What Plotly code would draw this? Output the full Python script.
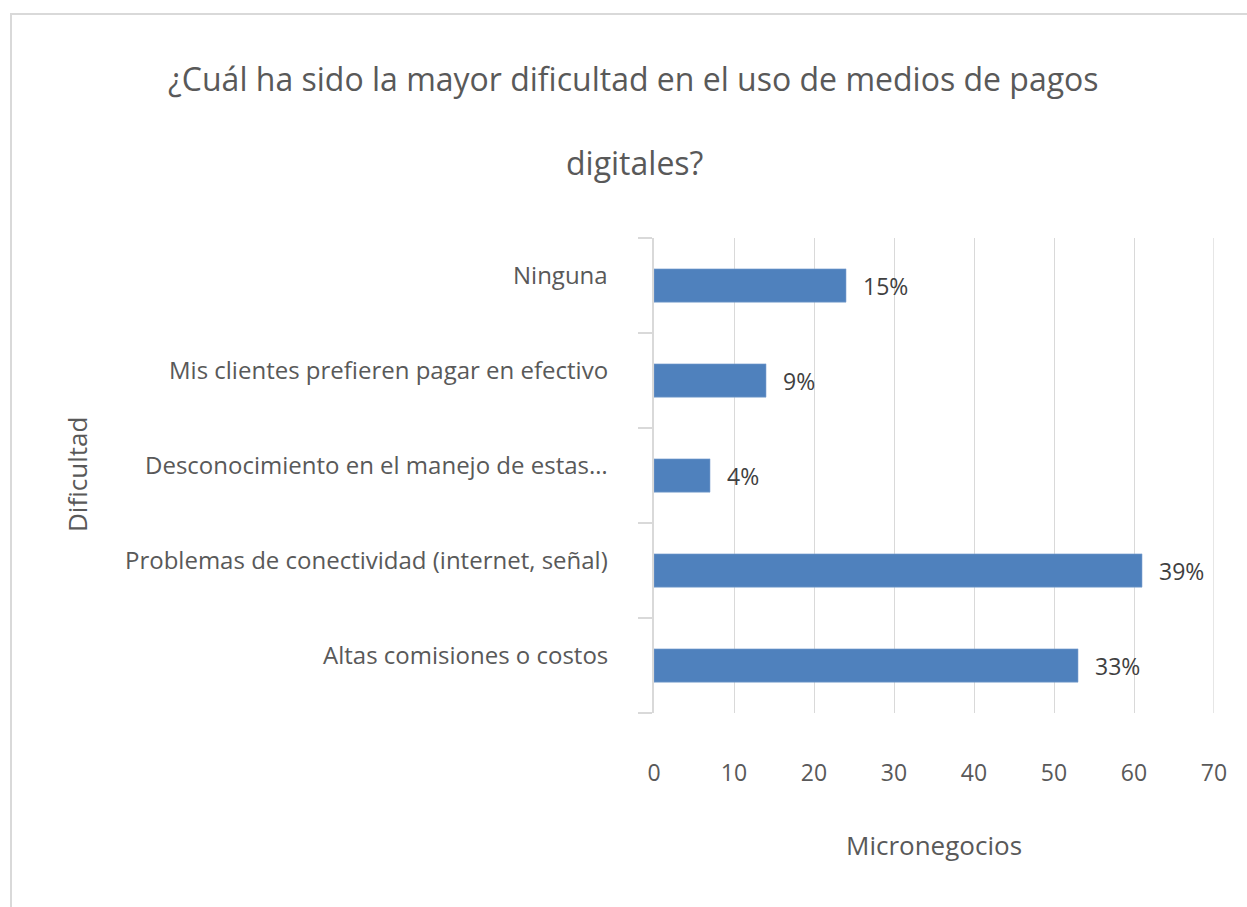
import plotly.graph_objects as go

# Survey answers (bottom to top as drawn) and number of micro-businesses
categorias = [
    "Altas comisiones o costos",
    "Problemas de conectividad (internet, señal)",
    "Desconocimiento en el manejo de estas…",
    "Mis clientes prefieren pagar en efectivo",
    "Ninguna",
]
micronegocios = [53, 61, 7, 14, 24]
etiquetas = ["33%", "39%", "4%", "9%", "15%"]
ticks_x = [0, 10, 20, 30, 40, 50, 60, 70]

FONT = "Open Sans"
GRIS = "#595959"
BORDE = "#d9d9d9"

fig = go.Figure(
    go.Bar(
        y=categorias,
        x=micronegocios,
        orientation="h",
        marker=dict(color="#4f81bd", line=dict(color="#7fa3d1", width=0.6)),
        hoverinfo="skip",
    )
)

annotations = []
# Value labels to the right of each bar
for cat, val, lab in zip(categorias, micronegocios, etiquetas):
    annotations.append(dict(
        x=val, y=cat, xref="x", yref="y", text=lab, showarrow=False,
        xanchor="left", yanchor="middle", xshift=15,
        font=dict(family=FONT, size=23, color="#404040"),
    ))
# Category labels, right-aligned left of the axis
for cat in categorias:
    annotations.append(dict(
        x=0, y=cat, xref="x", yref="y", text=cat, showarrow=False,
        xanchor="right", yanchor="middle", xshift=-44, yshift=11,
        font=dict(family=FONT, size=24, color=GRIS),
    ))

W, H = 1247, 907
L, R, T, B = 654, 1214, 238, 713


def px(xp):
    return (xp - L) / (R - L)


def py(yp):
    return (B - yp) / (B - T)


# Two-line chart title
annotations.append(dict(
    x=px(633), y=py(78), xref="paper", yref="paper",
    text="¿Cuál ha sido la mayor dificultad en el uso de medios de pagos",
    showarrow=False, xanchor="center", yanchor="middle",
    font=dict(family=FONT, size=32, color=GRIS),
))
annotations.append(dict(
    x=px(634), y=py(162), xref="paper", yref="paper", text="digitales?",
    showarrow=False, xanchor="center", yanchor="middle",
    font=dict(family=FONT, size=32, color=GRIS),
))
# Axis titles
annotations.append(dict(
    x=px(934), y=py(845), xref="paper", yref="paper", text="Micronegocios",
    showarrow=False, xanchor="center", yanchor="middle",
    font=dict(family=FONT, size=26, color=GRIS),
))
annotations.append(dict(
    x=px(77), y=py(475), xref="paper", yref="paper", text="Dificultad",
    showarrow=False, xanchor="center", yanchor="middle", textangle=-90,
    font=dict(family=FONT, size=26, color=GRIS),
))

shapes = [
    # outer chart frame
    dict(type="rect", xref="paper", yref="paper",
         x0=px(11), x1=px(1260), y0=py(14), y1=py(930),
         line=dict(color=BORDE, width=2), layer="below"),
    # gridline at the axis maximum
    dict(type="line", xref="x", yref="paper",
         x0=ticks_x[-1], x1=ticks_x[-1], y0=0, y1=1,
         line=dict(color=BORDE, width=1.3), layer="below"),
]

fig.update_layout(
    width=W, height=H,
    margin=dict(l=L, r=W - R, t=T, b=H - B),
    paper_bgcolor="white", plot_bgcolor="white",
    showlegend=False,
    bargap=0.65,
    annotations=annotations,
    shapes=shapes,
    xaxis=dict(
        range=[0, 70], tickvals=ticks_x, showgrid=True, gridcolor=BORDE,
        gridwidth=1.3, zeroline=False, showline=False, ticks="",
        ticklabelstandoff=44,
        tickfont=dict(family=FONT, size=23, color=GRIS),
    ),
    yaxis=dict(
        categoryorder="array", categoryarray=categorias,
        showticklabels=False, showgrid=False, zeroline=False,
        showline=True, linecolor=BORDE, linewidth=1.5,
        ticks="outside", tickson="boundaries", ticklen=14,
        tickcolor=BORDE, tickwidth=1.5,
    ),
)

fig.write_html("out.html")
